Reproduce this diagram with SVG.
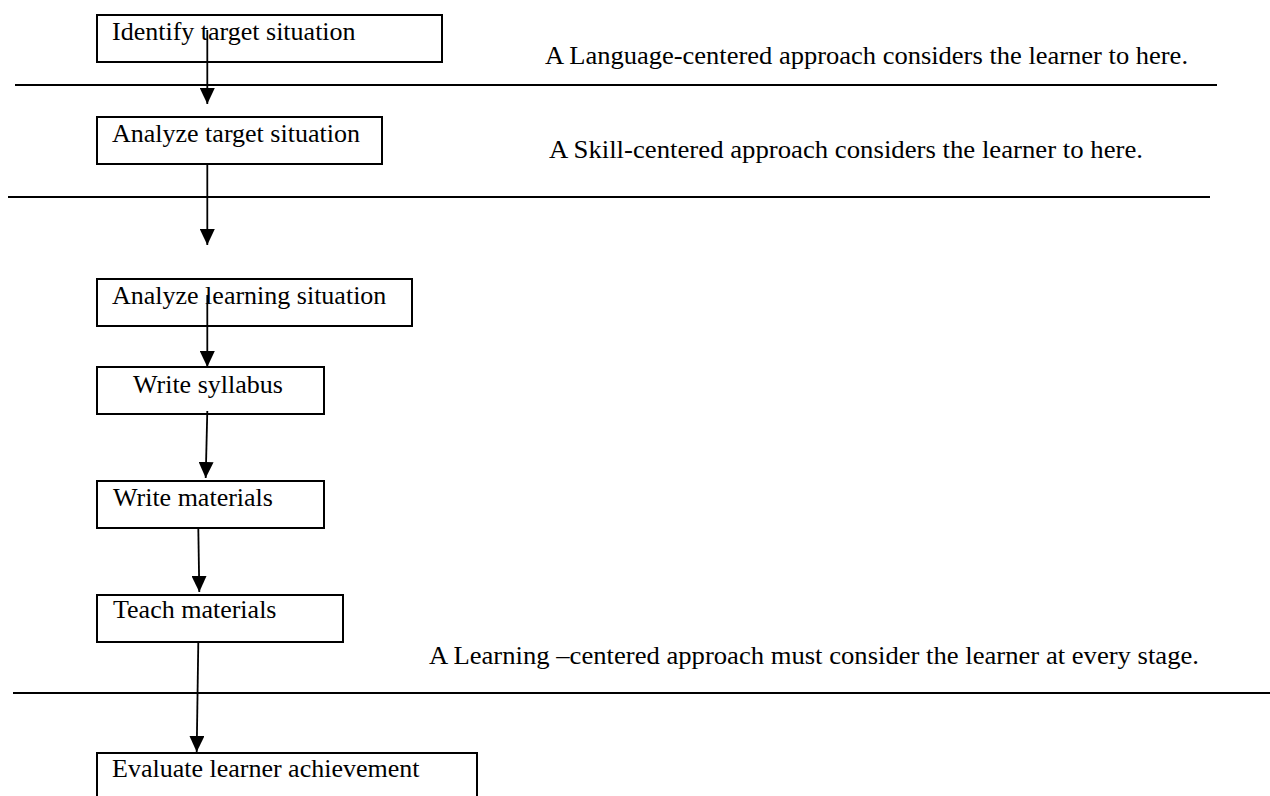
<svg xmlns="http://www.w3.org/2000/svg" width="1270" height="796" viewBox="0 0 1270 796">
  <style>
    .box { fill: #ffffff; stroke: #000000; stroke-width: 2; }
    .label { font-family: "Liberation Serif", "Times New Roman", serif; font-size: 26px; fill: #000000; }
    .note { font-family: "Liberation Serif", "Times New Roman", serif; font-size: 26px; fill: #000000; }
    .divider { stroke: #000000; stroke-width: 2; }
    .flow { stroke: #000000; stroke-width: 1.8; fill: none; marker-end: url(#arrowhead); }
  </style>
  <defs>
    <marker id="arrowhead" markerUnits="userSpaceOnUse" markerWidth="16" markerHeight="15" refX="16" refY="7.5" orient="auto">
      <path d="M0,0 L16,7.5 L0,15 Z" fill="#000000"/>
    </marker>
  </defs>
  <rect width="1270" height="796" fill="#ffffff"/>

  <!-- stage boundaries -->
  <g id="dividers">
    <line class="divider" x1="15" y1="85" x2="1217" y2="85"/>
    <line class="divider" x1="8" y1="197" x2="1210" y2="197"/>
    <line class="divider" x1="13" y1="693" x2="1270" y2="693"/>
  </g>

  <!-- approach notes -->
  <g id="notes">
    <text class="note" x="545" y="64" textLength="643" lengthAdjust="spacingAndGlyphs">A Language-centered approach considers the learner to here.</text>
    <text class="note" x="549" y="158" textLength="594" lengthAdjust="spacingAndGlyphs">A Skill-centered approach considers the learner to here.</text>
    <text class="note" x="429" y="664" textLength="770" lengthAdjust="spacingAndGlyphs">A Learning –centered approach must consider the learner at every stage.</text>
  </g>

  <g id="identify-target">
    <rect class="box" x="97" y="15" width="345" height="47"/>
    <text class="label" x="112" y="40">Identify target situation</text>
  </g>
  <g id="analyze-target">
    <rect class="box" x="97" y="117" width="285" height="47"/>
    <text class="label" x="112" y="142">Analyze target situation</text>
  </g>
  <g id="analyze-learning">
    <rect class="box" x="97" y="279" width="315" height="47"/>
    <text class="label" x="112" y="304">Analyze learning situation</text>
  </g>
  <g id="write-syllabus">
    <rect class="box" x="97" y="367" width="227" height="47"/>
    <text class="label" x="133" y="393">Write syllabus</text>
  </g>
  <g id="write-materials">
    <rect class="box" x="97" y="481" width="227" height="47"/>
    <text class="label" x="113" y="506">Write materials</text>
  </g>
  <g id="teach-materials">
    <rect class="box" x="97" y="595" width="246" height="47"/>
    <text class="label" x="113" y="618">Teach materials</text>
  </g>
  <g id="evaluate">
    <rect class="box" x="97" y="753" width="380" height="60"/>
    <text class="label" x="112" y="777">Evaluate learner achievement</text>
  </g>

  <!-- flow between stages -->
  <g id="connectors">
    <line class="flow" x1="207.3" y1="30" x2="207.3" y2="104"/>
    <line class="flow" x1="207.3" y1="164" x2="207.3" y2="245"/>
    <line class="flow" x1="207.3" y1="295" x2="207.3" y2="367"/>
    <line class="flow" x1="207.3" y1="411" x2="205.7" y2="478"/>
    <line class="flow" x1="198.3" y1="528" x2="199.3" y2="592"/>
    <line class="flow" x1="198.3" y1="642" x2="196.7" y2="752"/>
  </g>
</svg>
